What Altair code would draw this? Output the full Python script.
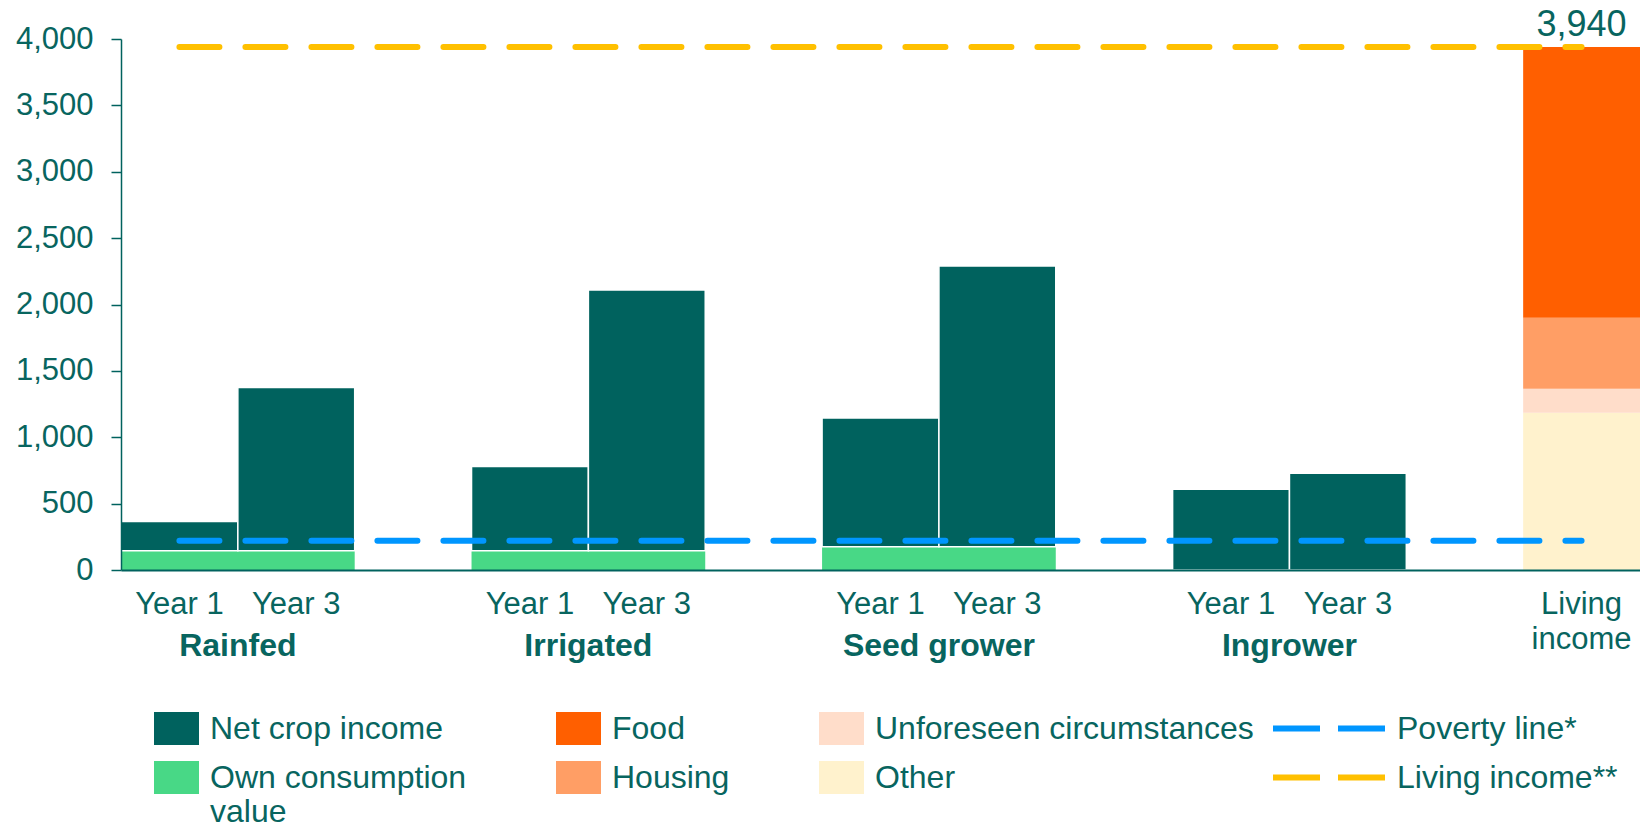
import altair as alt
import pandas as pd

# ---------------- data ----------------
groups = ["Rainfed", "Irrigated", "Seed grower", "Ingrower"]
year_labels = ["Year 1", "Year 3"]
own_consumption = [145, 145, 175, 0]          # own consumption value per group
total_year1 = [365, 780, 1145, 608]           # own consumption + net crop income, Year 1
total_year3 = [1375, 2110, 2290, 728]         # own consumption + net crop income, Year 3

living_parts = ["Other", "Unforeseen circumstances", "Housing", "Food"]
living_values = [1185, 180, 535, 2040]
living_label = ["Living", "income"]

line_names = ["Poverty line*", "Living income**"]
line_values = [220, 3940]

# ---------------- styling ----------------
TEAL = "#00625E"
TEXT = "#08655F"
FONT = "Liberation Sans"
legend_order = ["Net crop income", "Own consumption value", "Food", "Housing",
                "Unforeseen circumstances", "Other"]
legend_colors = ["#00625E", "#48D886", "#FF5F00", "#FF9E65", "#FFDDCA", "#FFF2CD"]
line_colors = ["#0096FF", "#FFC000"]

# ---------------- tables ----------------
net_rows, other_rows, year_rows, group_rows = [], [], [], []
for i, g in enumerate(groups):
    s = 3 * i
    own = own_consumption[i]
    if own > 0:
        other_rows.append(dict(series="Own consumption value", x0=s, x1=s + 2, y0=0, y1=own))
    for k, tot in enumerate([total_year1[i], total_year3[i]]):
        net_rows.append(dict(series="Net crop income", x0=s + k, x1=s + k + 1, y0=own, y1=tot))
        year_rows.append(dict(xc=s + k + 0.5, label=year_labels[k]))
    group_rows.append(dict(xc=s + 1, label=g))

living_slot = 3 * len(groups)
cum = 0
for p, v in zip(living_parts, living_values):
    other_rows.append(dict(series=p, x0=living_slot, x1=living_slot + 1, y0=cum, y1=cum + v))
    cum += v

net_df = pd.DataFrame(net_rows)
other_df = pd.DataFrame(other_rows)
year_df = pd.DataFrame(year_rows)
group_df = pd.DataFrame(group_rows)
living_text_df = pd.DataFrame([dict(xc=living_slot + 0.5, label=living_label)])
total_df = pd.DataFrame([dict(xc=living_slot + 0.5, value=cum)])
lines_df = pd.DataFrame(dict(name=line_names, value=line_values,
                             xa=[0.5] * 2, xb=[living_slot + 0.5] * 2))

# ---------------- scales / legends ----------------
xscale = alt.Scale(domain=[0, living_slot + 1], nice=False, zero=False)
yscale = alt.Scale(domain=[0, 4000], nice=False)

fill_legend = alt.Legend(
    title=None, orient="none", legendX=33, legendY=673, columns=3,
    symbolType="M-1,-0.733L1,-0.733L1,0.733L-1,0.733Z", symbolSize=2025,
    symbolStrokeWidth=0, symbolOpacity=1, clipHeight=33,
    labelFont=FONT, labelFontSize=32, labelColor=TEXT, labelLimit=700,
    labelOffset=11, columnPadding=89, rowPadding=16, padding=0,
    labelExpr="datum.label == 'Own consumption value' ? ['Own consumption', 'value'] : datum.label",
)
fill_enc = alt.Fill("series:N", scale=alt.Scale(domain=legend_order, range=legend_colors),
                    legend=fill_legend)

x_axis = alt.Axis(labels=False, ticks=False, grid=False, title=None,
                  domainColor=TEAL, domainWidth=2, zindex=1)
y_axis = alt.Axis(values=list(range(0, 4001, 500)), format=",.0f", title=None, grid=False,
                  domainColor=TEAL, domainWidth=1.5, tickColor=TEAL, tickWidth=1.5,
                  tickSize=10, labelFont=FONT, labelFontSize=31, labelColor=TEXT,
                  labelPadding=18, zindex=1)

other_bars = alt.Chart(other_df).mark_bar(strokeWidth=0).encode(
    x=alt.X("x0:Q", scale=xscale, axis=x_axis),
    x2="x1:Q",
    y=alt.Y("y0:Q", scale=yscale, axis=y_axis),
    y2="y1:Q",
    fill=fill_enc,
)

net_bars = alt.Chart(net_df).mark_bar(stroke="white", strokeWidth=1.5).encode(
    x=alt.X("x0:Q", scale=xscale, axis=x_axis),
    x2="x1:Q",
    y=alt.Y("y0:Q", scale=yscale, axis=y_axis),
    y2="y1:Q",
    fill=fill_enc,
)

lines = alt.Chart(lines_df).mark_rule(strokeWidth=6, strokeDash=[40, 26], strokeCap="round").encode(
    x=alt.X("xa:Q", scale=xscale),
    x2="xb:Q",
    y=alt.Y("value:Q", scale=yscale),
    stroke=alt.Stroke("name:N", scale=alt.Scale(domain=line_names, range=line_colors),
                      legend=alt.Legend(
                          title=None, orient="none", legendX=1149, legendY=673,
                          direction="vertical", symbolType="stroke", symbolSize=12544,
                          symbolStrokeWidth=6, symbolDash=[47, 18], clipHeight=33,
                          labelFont=FONT, labelFontSize=32, labelColor=TEXT,
                          labelLimit=700, labelOffset=9, rowPadding=16, padding=0)),
)

year_text = alt.Chart(year_df).mark_text(
    font=FONT, fontSize=31, color=TEXT, baseline="middle", dy=35
).encode(x=alt.X("xc:Q", scale=xscale), y=alt.datum(0), text="label:N")

group_text = alt.Chart(group_df).mark_text(
    font=FONT, fontSize=32, fontWeight="bold", color=TEXT, baseline="middle", dy=76
).encode(x=alt.X("xc:Q", scale=xscale), y=alt.datum(0), text="label:N")

living_text = alt.Chart(living_text_df).mark_text(
    font=FONT, fontSize=31, color=TEXT, baseline="middle", dy=35, lineHeight=35
).encode(x=alt.X("xc:Q", scale=xscale), y=alt.datum(0), text="label")

total_text = alt.Chart(total_df).mark_text(
    font=FONT, fontSize=36, color=TEXT, baseline="alphabetic", dy=-11
).encode(x=alt.X("xc:Q", scale=xscale), y=alt.Y("value:Q", scale=yscale),
         text=alt.Text("value:Q", format=","))

chart = alt.layer(
    other_bars, net_bars, lines, year_text, group_text, living_text, total_text
).properties(
    width=1519, height=531,
    padding={"left": 121, "top": 39, "right": 0, "bottom": 259},
    autosize=alt.AutoSizeParams(type="none"),
).configure_view(stroke=None)

chart.save("out.html", embed_options={"renderer": "svg", "actions": False})
